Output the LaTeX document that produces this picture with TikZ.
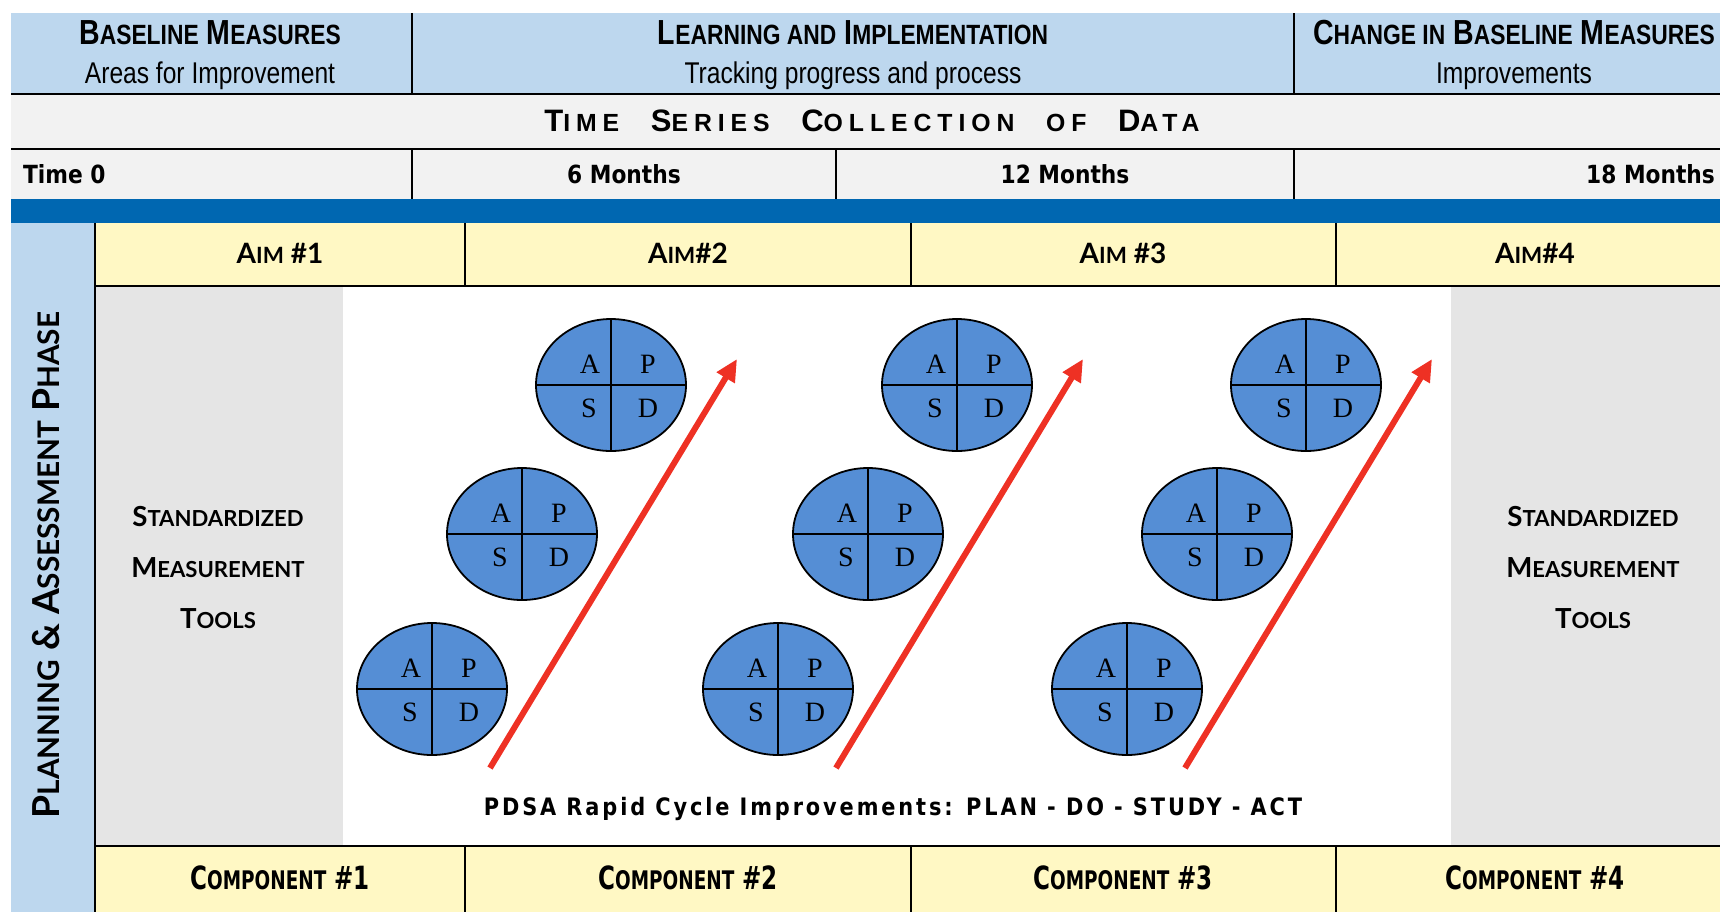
\documentclass[tikz,border=0pt]{standalone}
\usepackage{fontspec}
\usepackage{graphicx}
\setmainfont{Liberation Sans}
\newfontfamily\narrowfont[FakeStretch=0.82]{Liberation Sans}
\newfontfamily\spacedfont[LetterSpace=24]{Liberation Sans}
\newfontfamily\tahomafont[FakeStretch=0.87]{DejaVu Sans}
\newfontfamily\pdsafont[FakeStretch=0.87,LetterSpace=12]{DejaVu Sans}
\newfontfamily\condfont[FakeStretch=0.72]{DejaVu Sans}
\newfontfamily\gillfont{Lato}
\newfontfamily\cyclefont{Liberation Serif}
\usetikzlibrary{arrows.meta, positioning, shapes.geometric}
\newcommand{\smc}[1]{\scalebox{0.8}{#1}}
\definecolor{hdrblue}{HTML}{BDD7EE}
\definecolor{rowgrey}{HTML}{F2F2F2}
\definecolor{bandblue}{HTML}{0067B1}
\definecolor{aimyellow}{HTML}{FFF8C4}
\definecolor{panelgrey}{HTML}{E5E5E5}
\definecolor{cycleblue}{HTML}{558ED5}
\definecolor{arrowred}{HTML}{EE3124}
\tikzset{
  every picture/.style={x=0.5pt, y=-0.5pt, line width=1.1pt},
  rule/.style={draw=black, line width=1.1pt},
  title/.style={anchor=base, inner sep=0pt, font=\narrowfont\bfseries\fontsize{17.4}{20}\selectfont},
  subtitle/.style={anchor=base, inner sep=0pt, font=\narrowfont\fontsize{15}{18}\selectfont},
  series/.style={anchor=base, inner sep=0pt, font=\spacedfont\bfseries\fontsize{15.5}{18}\selectfont},
  month/.style={anchor=base, inner sep=0pt, font=\tahomafont\bfseries\fontsize{12.5}{15}\selectfont},
  aim/.style={anchor=base, inner sep=0pt, font=\gillfont\bfseries\fontsize{14}{17}\selectfont},
  tools/.style={align=center, inner sep=0pt, font=\gillfont\bfseries\fontsize{13.8}{25.5}\selectfont},
  phase/.style={rotate=90, inner sep=0pt, font=\gillfont\bfseries\fontsize{18.6}{22}\selectfont},
  component/.style={anchor=base, inner sep=0pt, font=\condfont\bfseries\fontsize{16}{19}\selectfont},
  pdsa/.style={anchor=base, inner sep=0pt, font=\pdsafont\bfseries\fontsize{12}{14}\selectfont},
  cycle/.style={ellipse, draw=black, fill=cycleblue, line width=0.9pt, inner sep=0pt, minimum width=75pt, minimum height=66pt},
  letter/.style={inner sep=0pt, font=\cyclefont\fontsize{14}{16}\selectfont},
  trend/.style={-{Triangle[length=11pt, width=10pt]}, draw=arrowred, line width=3pt},
}

\begin{document}
\begin{tikzpicture}
  \useasboundingbox (0,0) rectangle (1720,912);
  % cell fills
  \fill[hdrblue] (11,13) rectangle (1720,94);
  \fill[rowgrey] (11,94) rectangle (1720,199);
  \fill[bandblue] (11,199) rectangle (1720,223);
  \fill[hdrblue] (11,223) rectangle (95,912);
  \fill[aimyellow] (95,223) rectangle (1720,286);
  \fill[aimyellow] (95,846) rectangle (1720,912);
  \fill[panelgrey] (95,286) rectangle (343,846);
  \fill[panelgrey] (1451,286) rectangle (1720,846);
  % rules
  \draw[rule] (11,94) -- (1720,94) (11,149) -- (1720,149);
  \draw[rule] (412,13) -- (412,94) (1294,13) -- (1294,94);
  \draw[rule] (412,149) -- (412,199) (836,149) -- (836,199) (1294,149) -- (1294,199);
  \draw[rule] (95,223) -- (95,912);
  \draw[rule] (95,286) -- (1720,286) (95,846) -- (1720,846);
  \foreach \x in {465, 911, 1336} {
    \draw[rule] (\x,223) -- (\x,286) (\x,846) -- (\x,912);
  }

  \node[title] (base) at (210,44) {B\smc{ASELINE} M\smc{EASURES}};
  \node[subtitle] (basesub) at (210,83) {Areas for Improvement};
  \node[title] (learn) at (853,44) {L\smc{EARNING AND} I\smc{MPLEMENTATION}};
  \node[subtitle] (learnsub) at (853,83) {Tracking progress and process};
  \node[title] (change) at (1514,44) {C\smc{HANGE IN} B\smc{ASELINE} M\smc{EASURES}};
  \node[subtitle] (changesub) at (1514,83) {Improvements};

  \node[series] (collect) at (872,131)
    {T\smc{IME}\enspace\ S\smc{ERIES}\enspace\ C\smc{OLLECTION}\enspace\ \smc{OF}\enspace\ D\smc{ATA}};

  \node[month, anchor=base west] (t0) at (22,183) {Time 0};
  \node[month] (t6) at (624,183) {6 Months};
  \node[month] (t12) at (1065,183) {12 Months};
  \node[month, anchor=base east] (t18) at (1716,183) {18 Months};

  \node[aim] (aim1) at (280,263) {A\smc{IM} \#1};
  \node[aim] (aim2) at (688,263) {A\smc{IM}\#2};
  \node[aim] (aim3) at (1123,263) {A\smc{IM} \#3};
  \node[aim] (aim4) at (1535,263) {A\smc{IM}\#4};

  \node[phase] (plan) at (46,565) {P\smc{LANNING} \& A\smc{SSESSMENT} P\smc{HASE}};

  \node[tools] (toolsl) at (218,567) {S\smc{TANDARDIZED}\\M\smc{EASUREMENT}\\T\smc{OOLS}};
  \node[tools] (toolsr) at (1593,567) {S\smc{TANDARDIZED}\\M\smc{EASUREMENT}\\T\smc{OOLS}};

  % three PDSA groups
  \foreach \g/\dx in {1/0, 2/346, 3/695} {
    \foreach \k/\cx/\cy in {1/432/689, 2/522/534, 3/611/385} {
      \node[cycle] (c\g\k) at (\cx+\dx,\cy) {};
      \draw[line width=0.9pt] (c\g\k.north) -- (c\g\k.south) (c\g\k.west) -- (c\g\k.east);
      \node[letter] (a\g\k) at ([shift={(-21,-21)}]c\g\k.center) {A};
      \node[letter] (p\g\k) at ([shift={(37,-21)}]c\g\k.center) {P};
      \node[letter] (s\g\k) at ([shift={(-22,23)}]c\g\k.center) {S};
      \node[letter] (d\g\k) at ([shift={(37,23)}]c\g\k.center) {D};
    }
    \coordinate (from\g) at (490+\dx,768);
    \coordinate (to\g) at (737+\dx,359);
    \draw[trend] (from\g) -- (to\g);
  }

  \node[pdsa] (pdsa) at (893,815) {PDSA Rapid Cycle Improvements: PLAN - DO - STUDY - ACT};

  \node[component] (comp1) at (280,889) {C\smc{OMPONENT} \#1};
  \node[component] (comp2) at (688,889) {C\smc{OMPONENT} \#2};
  \node[component] (comp3) at (1123,889) {C\smc{OMPONENT} \#3};
  \node[component] (comp4) at (1535,889) {C\smc{OMPONENT} \#4};
\end{tikzpicture}
\end{document}
